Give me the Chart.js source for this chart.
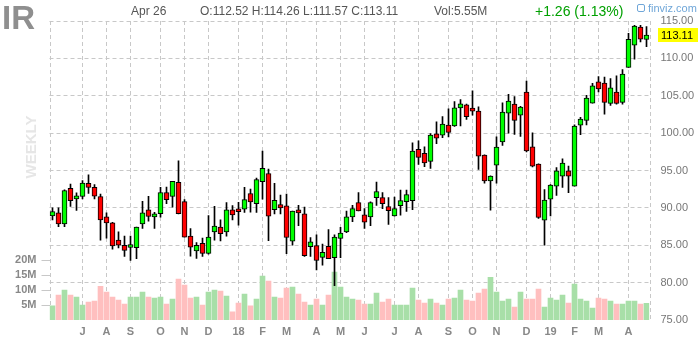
<!DOCTYPE html>
<html>
<head>
<meta charset="utf-8">
<title>IR weekly</title>
<script src="https://cdn.jsdelivr.net/npm/chart.js@4.4.1/dist/chart.umd.min.js"></script>
<style>
  html, body { margin: 0; padding: 0; background: #fff; }
  #wrap { position: relative; width: 700px; height: 340px; font-family: Arial, "Liberation Sans", sans-serif; }
  #wrap canvas { position: absolute; left: 0; top: 0; }
  .hd { position: absolute; white-space: nowrap; font-size: 12px; line-height: 12px; color: #555; }
  #sym { left: 2px; top: 1px; font-size: 33px; line-height: 33px; font-weight: bold; color: #8f8f8f; }
  #chg { left: 535px; top: 4px; font-size: 14px; line-height: 14px; color: #00a000; }
  #logo { left: 637px; top: 3px; font-size: 11px; line-height: 11px; color: #6fa6d8; }
  #logo span { display: inline-block; width: 6px; height: 6px; border: 1px solid #6fa6d8; border-radius: 2px; margin-right: 3px; vertical-align: 0; }
  #weekly { position: absolute; left: 30px; top: 147px; transform: translate(-50%, -50%) rotate(-90deg);
            font-size: 15px; font-weight: bold; color: #e6e6e6; white-space: nowrap; }
</style>
</head>
<body>
<div id="wrap">
  <canvas id="chart" width="700" height="340"></canvas>
  <div class="hd" id="sym">IR</div>
  <div class="hd" style="left:131px;top:5px">Apr 26</div>
  <div class="hd" style="left:200px;top:5px">O:112.52 H:114.26 L:111.57 C:113.11</div>
  <div class="hd" style="left:434px;top:5px">Vol:5.55M</div>
  <div class="hd" id="chg">+1.26 (1.13%)</div>
  <div class="hd" id="logo"><span></span>finviz.com</div>
  <div id="weekly">WEEKLY</div>
</div>
<script>
// weekly candles, Jun 2 2017 .. Apr 26 2019
const opens = [88.94, 89.34, 87.85, 92.60, 91.20, 91.52, 93.28, 92.74, 91.52, 88.80,
  87.99, 85.68, 85.00, 84.70, 84.68, 87.85, 89.75, 88.80, 89.21, 92.06,
  91.52, 93.42, 90.84, 86.22, 84.23, 85.27, 83.91, 86.77, 87.44, 86.77,
  89.75, 89.75, 89.84, 91.92, 90.57, 93.50, 94.60, 89.75, 90.43, 90.29,
  85.54, 89.60, 89.20, 84.82, 84.95, 83.37, 84.86, 83.33, 85.90, 86.77,
  88.80, 90.70, 89.07, 88.80, 91.38, 91.38, 90.16, 88.94, 90.29, 90.84,
  90.97, 97.84, 97.30, 96.22, 99.90, 99.73, 101.08, 100.95, 103.38, 103.78,
  103.21, 102.95, 97.05, 93.62, 95.71, 98.84, 102.68, 103.88, 102.41, 105.49,
  98.17, 95.85, 88.35, 91.16, 92.90, 94.24, 94.96, 92.90, 101.07, 101.70,
  104.02, 106.85, 106.70, 103.98, 105.50, 104.11, 108.78, 111.76, 114.20, 112.52];
const highs = [90.02, 90.02, 92.40, 93.19, 92.00, 93.64, 94.41, 93.10, 91.83, 89.34,
  88.08, 86.80, 86.22, 86.22, 87.44, 90.88, 91.56, 89.39, 92.74, 92.78,
  93.55, 96.31, 91.10, 87.22, 85.36, 85.95, 88.98, 90.20, 88.40, 90.70,
  90.30, 90.75, 92.74, 92.50, 94.00, 97.60, 95.20, 93.28, 91.70, 91.83,
  89.57, 90.34, 90.10, 86.04, 86.40, 85.14, 87.08, 86.40, 87.40, 89.57,
  90.34, 92.06, 89.89, 90.80, 93.46, 92.06, 91.38, 91.43, 92.38, 92.38,
  98.70, 98.96, 98.15, 99.95, 101.50, 102.20, 103.24, 104.23, 104.50, 103.90,
  105.67, 103.53, 97.10, 94.30, 99.50, 104.06, 105.18, 104.90, 103.60, 106.96,
  100.04, 95.90, 92.46, 93.10, 95.40, 96.56, 95.60, 101.10, 102.10, 105.04,
  106.65, 107.55, 107.50, 107.30, 107.67, 108.50, 113.36, 114.42, 114.42, 114.26];
const lows = [88.40, 87.49, 87.50, 90.20, 89.66, 91.20, 91.92, 91.20, 85.68, 85.95,
  84.46, 84.64, 83.50, 82.96, 83.19, 87.26, 88.21, 87.26, 88.76, 90.57,
  90.10, 89.20, 86.09, 83.55, 83.24, 83.50, 83.82, 85.68, 85.59, 86.22,
  88.40, 87.67, 89.39, 89.43, 89.40, 91.15, 85.60, 89.20, 89.20, 83.87,
  85.00, 87.62, 83.50, 83.50, 81.70, 82.33, 83.19, 79.60, 83.33, 86.67,
  88.17, 89.60, 87.26, 87.62, 90.34, 89.89, 87.80, 88.90, 89.03, 89.52,
  89.75, 95.81, 95.50, 95.27, 98.60, 99.40, 99.50, 100.90, 100.95, 101.85,
  102.41, 95.13, 93.30, 89.69, 93.30, 98.35, 100.00, 99.82, 99.55, 97.50,
  95.49, 88.60, 85.00, 88.93, 91.65, 92.72, 92.05, 92.90, 99.78, 101.10,
  104.00, 105.50, 102.52, 103.70, 103.89, 103.89, 108.78, 109.89, 112.20, 111.57];
const closes = [89.52, 87.85, 92.33, 90.97, 91.38, 93.33, 92.74, 91.56, 88.39, 87.99,
  84.91, 85.00, 84.32, 85.00, 87.44, 89.34, 88.85, 89.07, 92.06, 91.10,
  93.55, 89.21, 86.09, 84.73, 85.00, 83.91, 86.09, 87.58, 86.54, 89.75,
  89.07, 89.48, 91.10, 90.79, 93.80, 95.30, 88.90, 91.02, 89.98, 86.04,
  89.57, 89.34, 83.60, 85.45, 82.96, 84.05, 83.19, 86.09, 86.63, 88.80,
  89.89, 89.60, 88.08, 90.70, 92.19, 90.57, 89.62, 89.89, 90.97, 91.79,
  97.61, 96.76, 96.00, 99.73, 99.32, 101.22, 100.10, 103.38, 103.92, 102.20,
  102.95, 96.92, 93.62, 94.24, 98.13, 102.81, 104.29, 101.70, 103.48, 97.63,
  95.58, 88.71, 91.03, 93.04, 94.96, 95.98, 94.24, 100.94, 101.88, 104.69,
  106.34, 105.90, 104.11, 106.05, 103.98, 107.89, 112.56, 114.33, 112.56, 113.11];
// volume, millions of shares
const volumes = [4.7, 8.3, 10.0, 8.3, 7.7, 5.0, 6.0, 6.3, 11.3, 9.3,
  7.7, 6.7, 5.3, 7.7, 7.7, 9.3, 7.7, 7.3, 7.7, 5.3,
  7.0, 13.7, 11.7, 7.3, 7.7, 5.0, 9.3, 10.0, 9.7, 8.0,
  2.7, 5.7, 8.7, 4.7, 7.0, 14.7, 13.0, 7.7, 7.3, 10.7,
  11.0, 8.7, 6.0, 5.0, 7.0, 5.0, 8.3, 16.0, 11.0, 7.7,
  7.0, 6.7, 5.3, 5.3, 9.0, 6.0, 7.0, 5.0, 5.0, 5.0,
  10.7, 6.7, 5.7, 7.0, 5.7, 5.0, 7.0, 7.3, 10.0, 6.7,
  6.3, 9.0, 10.3, 14.3, 9.3, 6.3, 7.0, 4.3, 9.3, 7.0,
  7.0, 10.3, 4.3, 7.3, 6.7, 8.3, 5.7, 12.0, 7.0, 6.3,
  4.0, 7.3, 7.0, 6.3, 5.3, 5.3, 6.3, 6.3, 5.3, 5.55];

// first week of each month and its label
const monthStart = [5, 9, 13, 18, 22, 26, 31, 35, 39, 44, 48, 52, 57, 61, 66, 70, 74, 79, 83, 87, 91, 96];
const monthText = ['J', 'A', 'S', 'O', 'N', 'D', '18', 'F', 'M', 'A', 'M', 'J', 'J', 'A', 'S', 'O', 'N', 'D', '19', 'F', 'M', 'A'];
const volTicks = [5, 10, 15, 20];

const weeks = opens.map((_, i) => String(i));
const up = closes.map((c, i) => c >= opens[i]);
const GRID = '#c8c8c8';
const DASH = [4, 3];

Chart.defaults.font.family = 'Arial, "Liberation Sans", sans-serif';

// dashed left/right frame + last price tag
const frame = {
  id: 'frame',
  beforeDatasetsDraw(chart) {
    const { ctx, chartArea: a } = chart;
    ctx.save();
    ctx.strokeStyle = GRID;
    ctx.lineWidth = 1;
    ctx.setLineDash(DASH);
    [a.left, a.right].forEach(x => {
      const px = Math.round(x) + 0.5;
      ctx.beginPath(); ctx.moveTo(px, a.top); ctx.lineTo(px, a.bottom); ctx.stroke();
    });
    ctx.restore();
  },
  afterDraw(chart) {
    const { ctx, chartArea: a } = chart;
    const last = closes[closes.length - 1];
    const y = chart.scales.y.getPixelForValue(last);
    ctx.save();
    ctx.fillStyle = '#ffff00';
    ctx.fillRect(Math.round(a.right) + 8, Math.round(y) - 7, 40, 14);
    ctx.fillStyle = '#000';
    ctx.font = '11px Arial, "Liberation Sans", sans-serif';
    ctx.textBaseline = 'middle';
    ctx.fillText(last.toFixed(2), Math.round(a.right) + 11, y + 0.5);
    ctx.restore();
  }
};

new Chart(document.getElementById('chart'), {
  type: 'bar',
  data: {
    labels: weeks,
    datasets: [
      {
        label: 'body',
        data: opens.map((o, i) => [Math.min(o, closes[i]), Math.max(o, closes[i])]),
        backgroundColor: up.map(u => u ? '#00ff00' : '#ff0000'),
        borderColor: '#000',
        borderWidth: 1,
        borderSkipped: false,
        minBarLength: 3,
        barThickness: 5,
        grouped: false,
        yAxisID: 'y',
        order: 0
      },
      {
        label: 'wick',
        data: lows.map((l, i) => [l, highs[i]]),
        backgroundColor: '#000',
        barThickness: 1,
        grouped: false,
        yAxisID: 'y',
        order: 1
      },
      {
        label: 'volume',
        data: volumes,
        backgroundColor: up.map(u => u ? '#a8dfa8' : '#ffbfbf'),
        barThickness: 5,
        grouped: false,
        yAxisID: 'yv',
        order: 2
      }
    ]
  },
  options: {
    responsive: false,
    devicePixelRatio: 1,
    animation: false,
    events: [],
    layout: { padding: { top: 21, left: 0, right: 0, bottom: 0 } },
    plugins: { legend: { display: false }, tooltip: { enabled: false } },
    scales: {
      x: {
        offset: true,
        grid: {
          offset: false,
          drawTicks: false,
          color: ctx => monthStart.includes(ctx.index) ? GRID : 'rgba(0,0,0,0)'
        },
        border: { display: false, dash: DASH },
        ticks: {
          autoSkip: false, maxRotation: 0, padding: 5,
          color: '#888', font: { size: 11, weight: 'bold' },
          callback: (v, i) => { const k = monthStart.indexOf(i); return k >= 0 ? monthText[k] : ''; }
        },
        afterFit: s => { s.height = 20; }
      },
      y: {
        position: 'right',
        min: 75, max: 115,
        ticks: { stepSize: 5, padding: 11, color: '#777', font: { size: 11 }, callback: v => v.toFixed(2) },
        grid: { drawTicks: false, color: ctx => (ctx.tick && ctx.tick.value === 75) ? 'rgba(0,0,0,0)' : GRID },
        border: { display: false, dash: DASH },
        afterFit: s => { s.width = 50.5; }
      },
      yv: {
        position: 'left',
        min: 0, max: 100,
        afterBuildTicks: s => { s.ticks = volTicks.map(v => ({ value: v })); },
        ticks: { padding: 5, color: '#888', font: { size: 11, weight: 'bold' }, callback: v => v + 'M' },
        grid: { drawOnChartArea: false, drawTicks: true, tickLength: 8, color: GRID },
        border: { display: false, dash: DASH },
        afterFit: s => { s.width = 49.5; }
      }
    }
  },
  plugins: [frame]
});
</script>
</body>
</html>
